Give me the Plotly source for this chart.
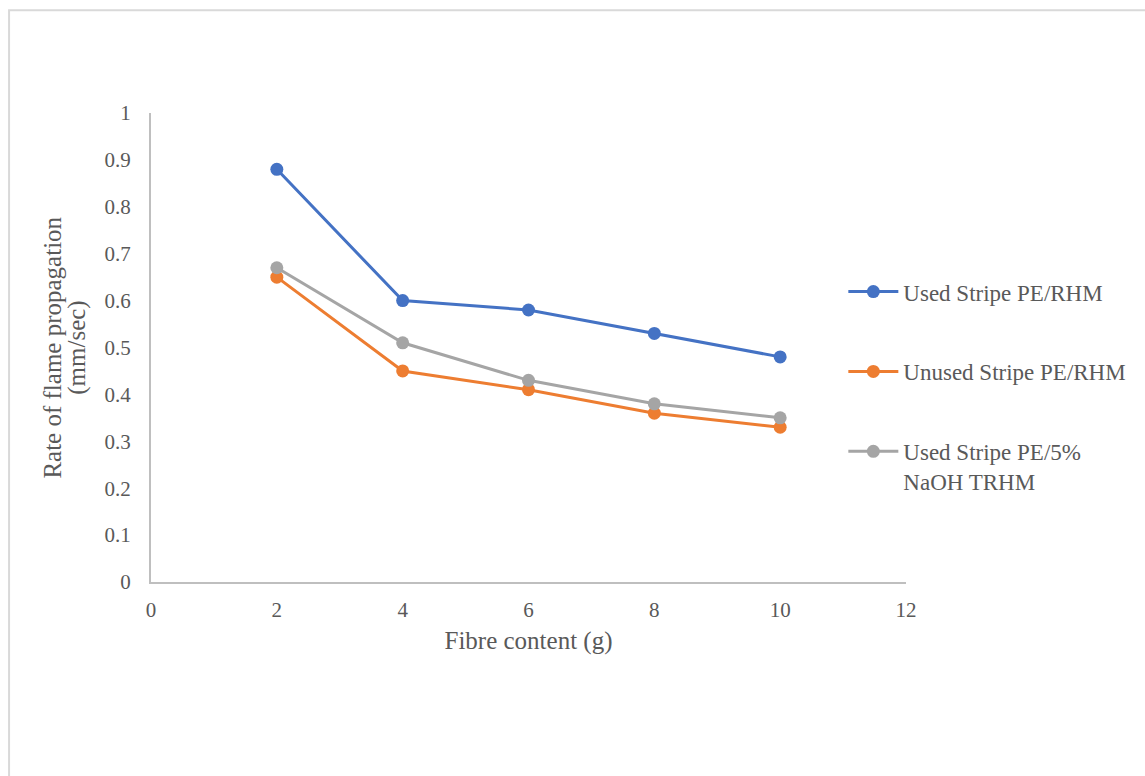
import plotly.graph_objects as go

# Fibre content (g)
fibre_content = [2, 4, 6, 8, 10]

# Rate of flame propagation (mm/sec) per sample
used_stripe_rhm = [0.88, 0.60, 0.58, 0.53, 0.48]
unused_stripe_rhm = [0.65, 0.45, 0.41, 0.36, 0.33]
used_stripe_naoh_trhm = [0.67, 0.51, 0.43, 0.38, 0.35]

series_names = [
    "Used Stripe PE/RHM",
    "Unused Stripe PE/RHM",
    "Used Stripe PE/5%<br>NaOH TRHM",
]
series_colors = ["#4472C4", "#ED7D31", "#A5A5A5"]

y_ticks = [0, 0.1, 0.2, 0.3, 0.4, 0.5, 0.6, 0.7, 0.8, 0.9, 1]
y_tick_text = ["0", "0.1", "0.2", "0.3", "0.4", "0.5", "0.6", "0.7", "0.8", "0.9", "1"]
x_ticks = [0, 2, 4, 6, 8, 10, 12]

y_title_lines = ["Rate of flame propagation", "(mm/sec)"]

FONT = "Liberation Serif, Times New Roman, serif"
TEXT_COLOR = "#595959"

fig = go.Figure()
for i, (name, values, color) in enumerate(
    zip(series_names, [used_stripe_rhm, unused_stripe_rhm, used_stripe_naoh_trhm], series_colors)
):
    fig.add_trace(
        go.Scatter(
            x=fibre_content,
            y=values,
            name=name,
            mode="lines+markers",
            line=dict(color=color, width=3),
            marker=dict(color=color, size=13),
            legendgroup=f"g{i}",
        )
    )

# Outer chart frame
fig.add_shape(
    type="rect", xref="paper", yref="paper",
    x0=-0.188, x1=1.5, y0=-0.5, y1=1.219,
    line=dict(color="#D9D9D9", width=2), layer="below",
)

# Two-line vertical y-axis title with tight line spacing
for line_text, xpos in zip(y_title_lines, [-0.131, -0.099]):
    fig.add_annotation(
        text=line_text, xref="paper", yref="paper",
        x=xpos, y=0.5, xanchor="center", yanchor="middle",
        textangle=-90, showarrow=False,
        font=dict(family=FONT, size=25, color=TEXT_COLOR),
    )

fig.update_layout(
    width=1145,
    height=776,
    margin=dict(l=151, r=239, t=113, b=194),
    paper_bgcolor="white",
    plot_bgcolor="white",
    font=dict(family=FONT, color=TEXT_COLOR, size=21),
    showlegend=True,
    legend=dict(
        x=0.917, xanchor="left",
        y=0.665, yanchor="top",
        traceorder="grouped",
        tracegroupgap=47,
        valign="top",
        font=dict(family=FONT, size=23, color=TEXT_COLOR),
        itemwidth=50,
        bgcolor="rgba(0,0,0,0)",
    ),
    xaxis=dict(
        range=[0, 12],
        tickvals=x_ticks,
        showgrid=False,
        zeroline=False,
        showline=True,
        linecolor="#BFBFBF",
        linewidth=2,
        ticks="",
        ticklabelstandoff=8,
        tickfont=dict(family=FONT, size=21, color=TEXT_COLOR),
        title=dict(text="Fibre content (g)", font=dict(family=FONT, size=25, color=TEXT_COLOR), standoff=10),
    ),
    yaxis=dict(
        range=[0, 1],
        tickvals=y_ticks,
        ticktext=y_tick_text,
        showgrid=False,
        zeroline=False,
        showline=True,
        linecolor="#BFBFBF",
        linewidth=2,
        ticks="",
        ticklabelstandoff=14,
        tickfont=dict(family=FONT, size=21, color=TEXT_COLOR),
    ),
)

fig.write_html("out.html")
